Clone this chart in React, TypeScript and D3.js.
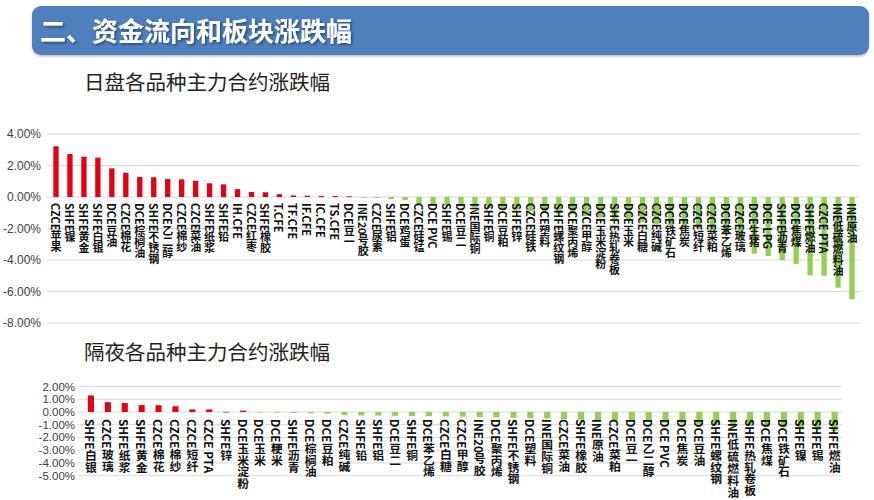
import React from "react";
import * as d3 from "d3";

const dayCategories = [
  "CZCE苹果", "SHFE镍", "SHFE黄金", "SHFE白银", "DCE豆油", "CZCE棉花", "DCE棕榈油", "SHFE不锈钢",
  "DCE乙二醇", "CZCE棉纱", "CZCE菜油", "SHFE纸浆", "SHFE铅", "IH.CFE", "CZCE红枣", "SHFE橡胶",
  "T.CFE", "TF.CFE", "IF.CFE", "IC.CFE", "TS.CFE", "DCE豆一", "INE20号胶", "CZCE尿素", "SHFE铝",
  "DCE鸡蛋", "CZCE硅锰", "DCE PVC", "SHFE锡", "DCE豆二", "INE国际铜", "SHFE铜", "DCE豆粕", "SHFE锌",
  "CZCE硅铁", "DCE塑料", "SHFE螺纹钢", "DCE聚丙烯", "CZCE甲醇", "DCE玉米淀粉", "SHFE热轧卷板",
  "DCE玉米", "CZCE白糖", "CZCE纯碱", "DCE铁矿石", "DCE焦炭", "CZCE短纤", "CZCE菜粕", "DCE苯乙烯",
  "CZCE玻璃", "DCE生猪", "DCE LPG", "SHFE沥青", "DCE焦煤", "SHFE燃油", "CZCE PTA", "INE低硫燃料油", "INE原油",
];
const dayValues = [
  3.22, 2.73, 2.56, 2.5, 1.82, 1.54, 1.27, 1.25,
  1.14, 1.12, 1.03, 0.87, 0.8, 0.5, 0.32, 0.3,
  0.18, 0.1, 0.08, 0.07, 0.06, 0.05, -0.02, -0.06, -0.14,
  -0.2, -0.45, -0.5, -0.55, -0.6, -0.65, -0.7, -0.75, -0.8,
  -0.9, -1.0, -1.05, -1.1, -1.2, -1.3, -1.4,
  -1.5, -1.6, -1.7, -1.8, -1.9, -2.0, -2.1, -2.3,
  -2.6, -3.6, -3.75, -4.0, -4.25, -4.98, -5.0, -5.76, -6.5,
];
const dayTicks = [4, 2, 0, -2, -4, -6, -8];

const nightCategories = [
  "SHFE白银", "CZCE玻璃", "SHFE纸浆", "SHFE黄金", "CZCE棉花", "CZCE棉纱", "CZCE短纤", "CZCE PTA",
  "SHFE锌", "DCE玉米淀粉", "DCE玉米", "DCE粳米", "SHFE沥青", "DCE棕榈油", "DCE豆粕", "CZCE纯碱",
  "SHFE铅", "SHFE铝", "DCE豆二", "SHFE铜", "DCE苯乙烯", "CZCE白糖", "CZCE甲醇", "INE20号胶",
  "DCE聚丙烯", "SHFE不锈钢", "DCE塑料", "INE国际铜", "CZCE菜油", "SHFE橡胶", "INE原油", "CZCE菜粕",
  "DCE豆一", "DCE乙二醇", "DCE PVC", "DCE焦炭", "DCE豆油", "SHFE螺纹钢", "INE低硫燃料油",
  "SHFE热轧卷板", "DCE焦煤", "DCE铁矿石", "SHFE镍", "SHFE锡", "SHFE燃油",
];
const nightValues = [
  1.3, 0.77, 0.7, 0.54, 0.53, 0.45, 0.2, 0.2,
  0.01, 0.1, -0.05, -0.05, -0.08, -0.1, -0.12, -0.25,
  -0.27, -0.28, -0.3, -0.31, -0.33, -0.35, -0.37, -0.4,
  -0.42, -0.45, -0.5, -0.52, -0.55, -0.6, -0.65, -0.7,
  -0.75, -0.8, -0.85, -0.9, -0.95, -1.0, -1.05,
  -1.1, -1.15, -1.2, -1.3, -1.4, -1.5,
];
const nightTicks = [2, 1, 0, -1, -2, -3, -4, -5];

const RED = "#e50012";
const GREEN = "#92d050";
const GRID = "#d9d9d9";

type PanelProps = {
  cats: string[];
  vals: number[];
  ticks: number[];
  x0: number;
  x1: number;
  gridX0: number;
  gridX1: number;
  yTop: number;
  yBottom: number;
  barRatio: number;
  labelGap: number;
  labelSize: number;
  tickSize: number;
  tickX: number;
};

function Panel(p: PanelProps) {
  const x = d3
    .scaleBand<string>()
    .domain(p.cats)
    .range([p.x0, p.x1])
    .paddingInner(1 - p.barRatio)
    .paddingOuter((1 - p.barRatio) / 2);
  const y = d3
    .scaleLinear()
    .domain([d3.min(p.ticks)!, d3.max(p.ticks)!])
    .range([p.yBottom, p.yTop]);
  const fmt = (v: number) => v.toFixed(2) + "%";
  return (
    <g>
      {p.ticks.map((t) => (
        <g key={t}>
          <line x1={p.gridX0} x2={p.gridX1} y1={y(t)} y2={y(t)} stroke={GRID} strokeWidth={1} />
          <text
            x={p.tickX}
            y={y(t)}
            dy="0.35em"
            textAnchor="end"
            fontSize={p.tickSize}
            fontFamily="Liberation Sans, Arial, sans-serif"
            fill="#404040"
          >
            {fmt(t)}
          </text>
        </g>
      ))}
      {p.cats.map((c, i) => {
        const v = p.vals[i];
        const yA = y(Math.max(0, v));
        const yB = y(Math.min(0, v));
        return (
          <rect
            key={c}
            x={x(c)!}
            width={x.bandwidth()}
            y={yA}
            height={Math.max(0.6, yB - yA)}
            fill={v >= 0 ? RED : GREEN}
          />
        );
      })}
      {p.cats.map((c) => (
        <text
          key={"l" + c}
          x={x(c)! + x.bandwidth() / 2}
          y={y(0) + p.labelGap}
          fontSize={p.labelSize}
          fontWeight={700}
          fontFamily="Noto Sans CJK SC, sans-serif"
          fill="#111"
          style={{ writingMode: "vertical-rl" } as any}
        >
          {c}
        </text>
      ))}
    </g>
  );
}

export default function App() {
  return (
    <svg
      width={874}
      height={500}
      style={{ position: "absolute", left: 0, top: 0, background: "#fff" }}
    >
      <defs>
        <filter id="ts" x="-5%" y="-20%" width="110%" height="140%">
          <feDropShadow dx="1.5" dy="1.5" stdDeviation="1" floodColor="#1f3a5f" floodOpacity="0.8" />
        </filter>
        <filter id="bs" x="-2%" y="-10%" width="104%" height="130%">
          <feDropShadow dx="0" dy="1.5" stdDeviation="1.2" floodColor="#000" floodOpacity="0.25" />
        </filter>
      </defs>
      <rect x={32} y={6} width={837} height={49} rx={9} fill="#4f7fbd" filter="url(#bs)" />
      <text
        x={40}
        y={41}
        fontSize={26}
        fontWeight={700}
        fontFamily="Noto Sans CJK SC, sans-serif"
        fill="#fff"
        filter="url(#ts)"
      >
        二、资金流向和板块涨跌幅
      </text>
      <text x={84} y={90} fontSize={20.5} fontFamily="Noto Sans CJK SC, sans-serif" fill="#222">
        日盘各品种主力合约涨跌幅
      </text>
      <text x={84} y={360} fontSize={20.5} fontFamily="Noto Sans CJK SC, sans-serif" fill="#222">
        隔夜各品种主力合约涨跌幅
      </text>
      <Panel
        cats={dayCategories}
        vals={dayValues}
        ticks={dayTicks}
        x0={49}
        x1={859}
        gridX0={47}
        gridX1={860}
        yTop={134}
        yBottom={323}
        barRatio={0.38}
        labelGap={6}
        labelSize={11}
        tickSize={12}
        tickX={41}
      />
      <Panel
        cats={nightCategories}
        vals={nightValues}
        ticks={nightTicks}
        x0={82.5}
        x1={843}
        gridX0={78}
        gridX1={842}
        yTop={386.5}
        yBottom={475.7}
        barRatio={0.36}
        labelGap={7}
        labelSize={11.8}
        tickSize={11.5}
        tickX={75}
      />
    </svg>
  );
}
